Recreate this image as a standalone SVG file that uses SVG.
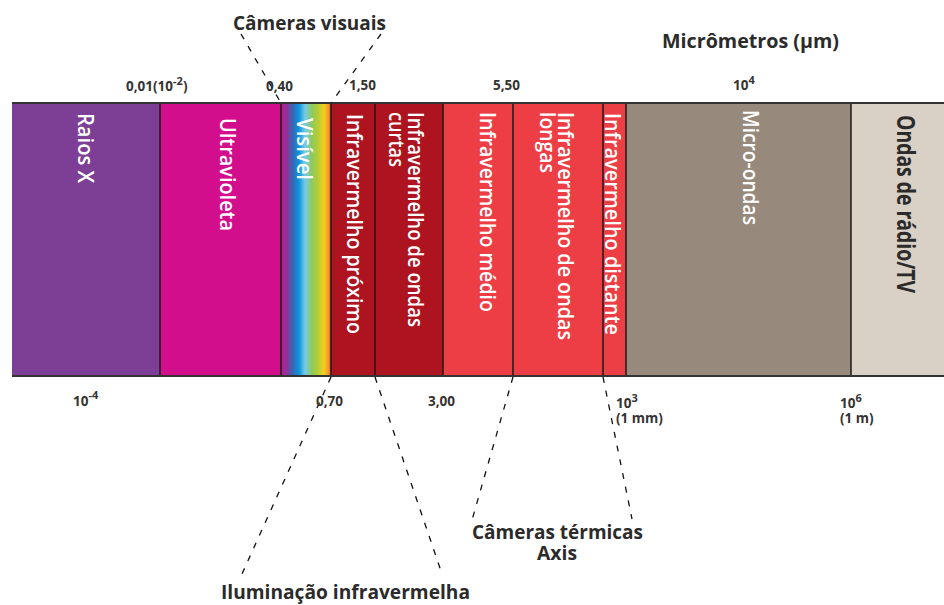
<svg xmlns="http://www.w3.org/2000/svg" width="944" height="605" viewBox="0 0 944 605">
<defs>
<linearGradient id="vis" x1="0" y1="0" x2="1" y2="0">
<stop offset="0" stop-color="#c2188f"/>
<stop offset="0.12" stop-color="#8a3596"/>
<stop offset="0.24" stop-color="#3468b8"/>
<stop offset="0.36" stop-color="#0a95dc"/>
<stop offset="0.48" stop-color="#74cbec"/>
<stop offset="0.62" stop-color="#8fca5a"/>
<stop offset="0.74" stop-color="#b4cd38"/>
<stop offset="0.86" stop-color="#f3cf1c"/>
<stop offset="0.95" stop-color="#f7962a"/>
<stop offset="1" stop-color="#e8412e"/>
</linearGradient>
<style>
.band{font-family:"Open Sans","Liberation Sans",sans-serif;font-weight:600;font-size:22px;fill:#ffffff}
.dark{fill:#2b2b2b;font-size:25px;font-weight:700}
.title{font-family:"Open Sans","Liberation Sans",sans-serif;font-weight:700;font-size:20px;fill:#2b2b2b}
.num{font-family:"Open Sans","Liberation Sans",sans-serif;font-weight:700;font-size:13.5px;fill:#333333}
.sup{font-size:11px}
.sep{stroke:#1a1a1a;stroke-width:1.5}
.edge{stroke:#333333;stroke-width:2}
.dash{stroke:#111111;stroke-width:1.3;stroke-dasharray:6 8;fill:none}
</style>
</defs>
<rect width="944" height="605" fill="#ffffff"/>

<g id="raios-x"><rect x="12" y="103" width="148" height="273" fill="#7d3f96"/><text class="band" font-size="24" transform="translate(78,113) rotate(90)" textLength="70" lengthAdjust="spacingAndGlyphs">Raios X</text></g>
<g id="ultravioleta"><rect x="160" y="103" width="121" height="273" fill="#d30e8c"/><text class="band" transform="translate(220,118) rotate(90)" textLength="113" lengthAdjust="spacingAndGlyphs">Ultravioleta</text></g>
<g id="visivel"><rect x="281" y="103" width="50" height="273" fill="url(#vis)"/><text class="band" transform="translate(297,118) rotate(90)" textLength="62" lengthAdjust="spacingAndGlyphs">Visível</text></g>
<g id="ir-proximo"><rect x="331" y="103" width="44" height="273" fill="#ae1320"/><text class="band" transform="translate(347,114) rotate(90)" textLength="220" lengthAdjust="spacingAndGlyphs">Infravermelho próximo</text></g>
<g id="ir-curtas"><rect x="375" y="103" width="68" height="273" fill="#ae1320"/><text class="band" transform="translate(408,112) rotate(90)" textLength="215" lengthAdjust="spacingAndGlyphs">Infravermelho de ondas</text><text class="band" transform="translate(389,112) rotate(90)" textLength="55" lengthAdjust="spacingAndGlyphs">curtas</text></g>
<g id="ir-medio"><rect x="443" y="103" width="70" height="273" fill="#ee3e45"/><text class="band" transform="translate(480,112) rotate(90)" textLength="200" lengthAdjust="spacingAndGlyphs">Infravermelho médio</text></g>
<g id="ir-longas"><rect x="513" y="103" width="90" height="273" fill="#ee3e45"/><text class="band" transform="translate(558,112) rotate(90)" textLength="228" lengthAdjust="spacingAndGlyphs">Infravermelho de ondas</text><text class="band" transform="translate(540,112) rotate(90)" textLength="61" lengthAdjust="spacingAndGlyphs">longas</text></g>
<g id="ir-distante"><rect x="603" y="103" width="23" height="273" fill="#ee3e45"/><text class="band" transform="translate(605,113) rotate(90)" textLength="222" lengthAdjust="spacingAndGlyphs">Infravermelho distante</text></g>
<g id="micro-ondas"><rect x="626" y="103" width="225" height="273" fill="#978a7c"/><text class="band" transform="translate(743,110) rotate(90)" textLength="115" lengthAdjust="spacingAndGlyphs">Micro-ondas</text></g>
<g id="radio-tv"><rect x="851" y="103" width="93" height="273" fill="#d9d0c6"/><text class="band dark" transform="translate(897,115) rotate(90)" textLength="178" lengthAdjust="spacingAndGlyphs">Ondas de rádio/TV</text></g>

<g id="bar-lines">
<line class="sep" x1="160" y1="103" x2="160" y2="376"/>
<line class="sep" x1="281" y1="103" x2="281" y2="376"/>
<line class="sep" x1="331" y1="103" x2="331" y2="376"/>
<line class="sep" x1="375" y1="103" x2="375" y2="376"/>
<line class="sep" x1="443" y1="103" x2="443" y2="376"/>
<line class="sep" x1="513" y1="103" x2="513" y2="376"/>
<line class="sep" x1="603" y1="103" x2="603" y2="376"/>
<line class="sep" x1="626" y1="103" x2="626" y2="376"/>
<line class="sep" x1="851" y1="103" x2="851" y2="376"/>
<line class="edge" x1="12" y1="103" x2="944" y2="103"/>
<line class="edge" x1="12" y1="376" x2="944" y2="376"/>
</g>

<g id="connectors">
<line class="dash" x1="241" y1="34" x2="281" y2="103"/>
<line class="dash" x1="381" y1="34" x2="331" y2="103"/>
<line class="dash" x1="331" y1="377" x2="242" y2="574"/>
<line class="dash" x1="375" y1="377" x2="442" y2="574"/>
<line class="dash" x1="513" y1="377" x2="472" y2="520"/>
<line class="dash" x1="603" y1="377" x2="632" y2="519"/>
</g>

<g id="label-cameras-visuais"><text class="title" x="233" y="30" textLength="153" lengthAdjust="spacingAndGlyphs">Câmeras visuais</text></g>
<g id="label-micrometros"><text class="title" x="662" y="48" textLength="177" lengthAdjust="spacingAndGlyphs">Micrômetros (µm)</text></g>
<g id="label-iluminacao"><text class="title" x="221" y="599" textLength="249" lengthAdjust="spacingAndGlyphs">Iluminação infravermelha</text></g>
<g id="label-cameras-termicas"><text class="title" font-size="19" x="472" y="539" textLength="171" lengthAdjust="spacingAndGlyphs">Câmeras térmicas</text><text class="title" font-size="19" x="537" y="560" textLength="40" lengthAdjust="spacingAndGlyphs">Axis</text></g>

<g id="scale">
<text class="num" x="126" y="91">0,01(10<tspan class="sup" dy="-6">-2</tspan><tspan dy="6">)</tspan></text>
<text class="num" x="266" y="91">0,40</text>
<text class="num" x="349" y="90">1,50</text>
<text class="num" x="493" y="90">5,50</text>
<text class="num" x="733" y="90">10<tspan class="sup" dy="-6">4</tspan></text>
<text class="num" x="73" y="406">10<tspan class="sup" dy="-7">-4</tspan></text>
<text class="num" x="316" y="406">0,70</text>
<text class="num" x="428" y="406">3,00</text>
<text class="num" x="616" y="408">10<tspan class="sup" dy="-6">3</tspan></text>
<text class="num" x="616" y="423">(1 mm)</text>
<text class="num" x="840" y="408">10<tspan class="sup" dy="-6">6</tspan></text>
<text class="num" x="840" y="423">(1 m)</text>
</g>
</svg>
